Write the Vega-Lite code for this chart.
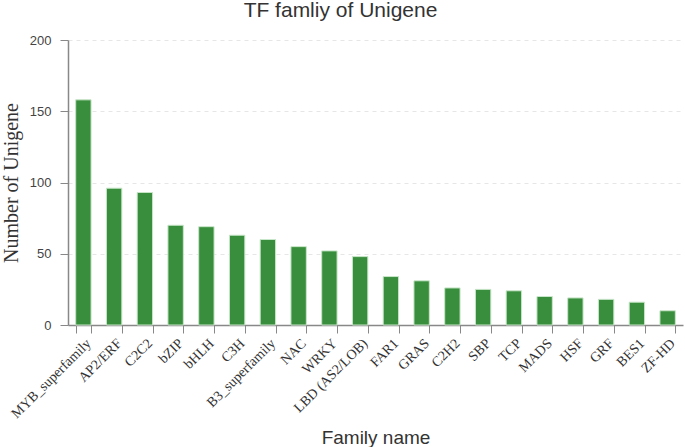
{
  "$schema": "https://vega.github.io/schema/vega-lite/v6.json",
  "autosize": {"type": "none"},
  "padding": {"left": 68, "top": 40, "right": 2, "bottom": 122},
  "width": 615,
  "height": 285,
  "background": "white",
  "title": {
    "text": "TF famliy of Unigene",
    "font": "Liberation Sans",
    "fontSize": 21,
    "fontWeight": "normal",
    "color": "#333333",
    "anchor": "middle",
    "dx": -35,
    "dy": 20,
    "baseline": "alphabetic",
    "offset": 16
  },
  "data": {
    "values": [
      {"family": "MYB_superfamily", "count": 158},
      {"family": "AP2/ERF", "count": 96},
      {"family": "C2C2", "count": 93},
      {"family": "bZIP", "count": 70},
      {"family": "bHLH", "count": 69},
      {"family": "C3H", "count": 63},
      {"family": "B3_superfamily", "count": 60},
      {"family": "NAC", "count": 55},
      {"family": "WRKY", "count": 52},
      {"family": "LBD (AS2/LOB)", "count": 48},
      {"family": "FAR1", "count": 34},
      {"family": "GRAS", "count": 31},
      {"family": "C2H2", "count": 26},
      {"family": "SBP", "count": 25},
      {"family": "TCP", "count": 24},
      {"family": "MADS", "count": 20},
      {"family": "HSF", "count": 19},
      {"family": "GRF", "count": 18},
      {"family": "BES1", "count": 16},
      {"family": "ZF-HD", "count": 10}
    ]
  },
  "mark": {"type": "bar", "color": "#388E3C", "stroke": "#c8e6c9", "strokeWidth": 1},
  "encoding": {
    "x": {
      "field": "family",
      "type": "nominal",
      "sort": null,
      "scale": {"paddingInner": 0.5, "paddingOuter": 0.25},
      "axis": {
        "title": "Family name",
        "titleFont": "Liberation Sans",
        "titleFontSize": 19,
        "titleFontWeight": "normal",
        "titleColor": "#333333",
        "titlePadding": 8,
        "labelFont": "Liberation Serif",
        "labelFontSize": 14,
        "labelColor": "#333333",
        "labelAngle": -45,
        "labelPadding": 3,
        "tickBand": "extent",
        "tickSize": 8,
        "tickColor": "#888888",
        "domainColor": "#888888",
        "domainWidth": 1.5,
        "grid": false
      }
    },
    "y": {
      "field": "count",
      "type": "quantitative",
      "scale": {"domain": [0, 200], "nice": false},
      "axis": {
        "title": "Number of Unigene",
        "titleFont": "Liberation Serif",
        "titleFontSize": 20,
        "titleFontWeight": "normal",
        "titleColor": "#333333",
        "titlePadding": 8,
        "values": [0, 50, 100, 150, 200],
        "labelFont": "Liberation Sans",
        "labelFontSize": 13,
        "labelColor": "#444444",
        "labelPadding": 9,
        "tickSize": 8,
        "tickColor": "#888888",
        "domainColor": "#888888",
        "domainWidth": 1.5,
        "grid": true,
        "gridColor": "#e6e6e6",
        "gridDash": [4, 4]
      }
    }
  },
  "config": {"view": {"stroke": null}}
}
